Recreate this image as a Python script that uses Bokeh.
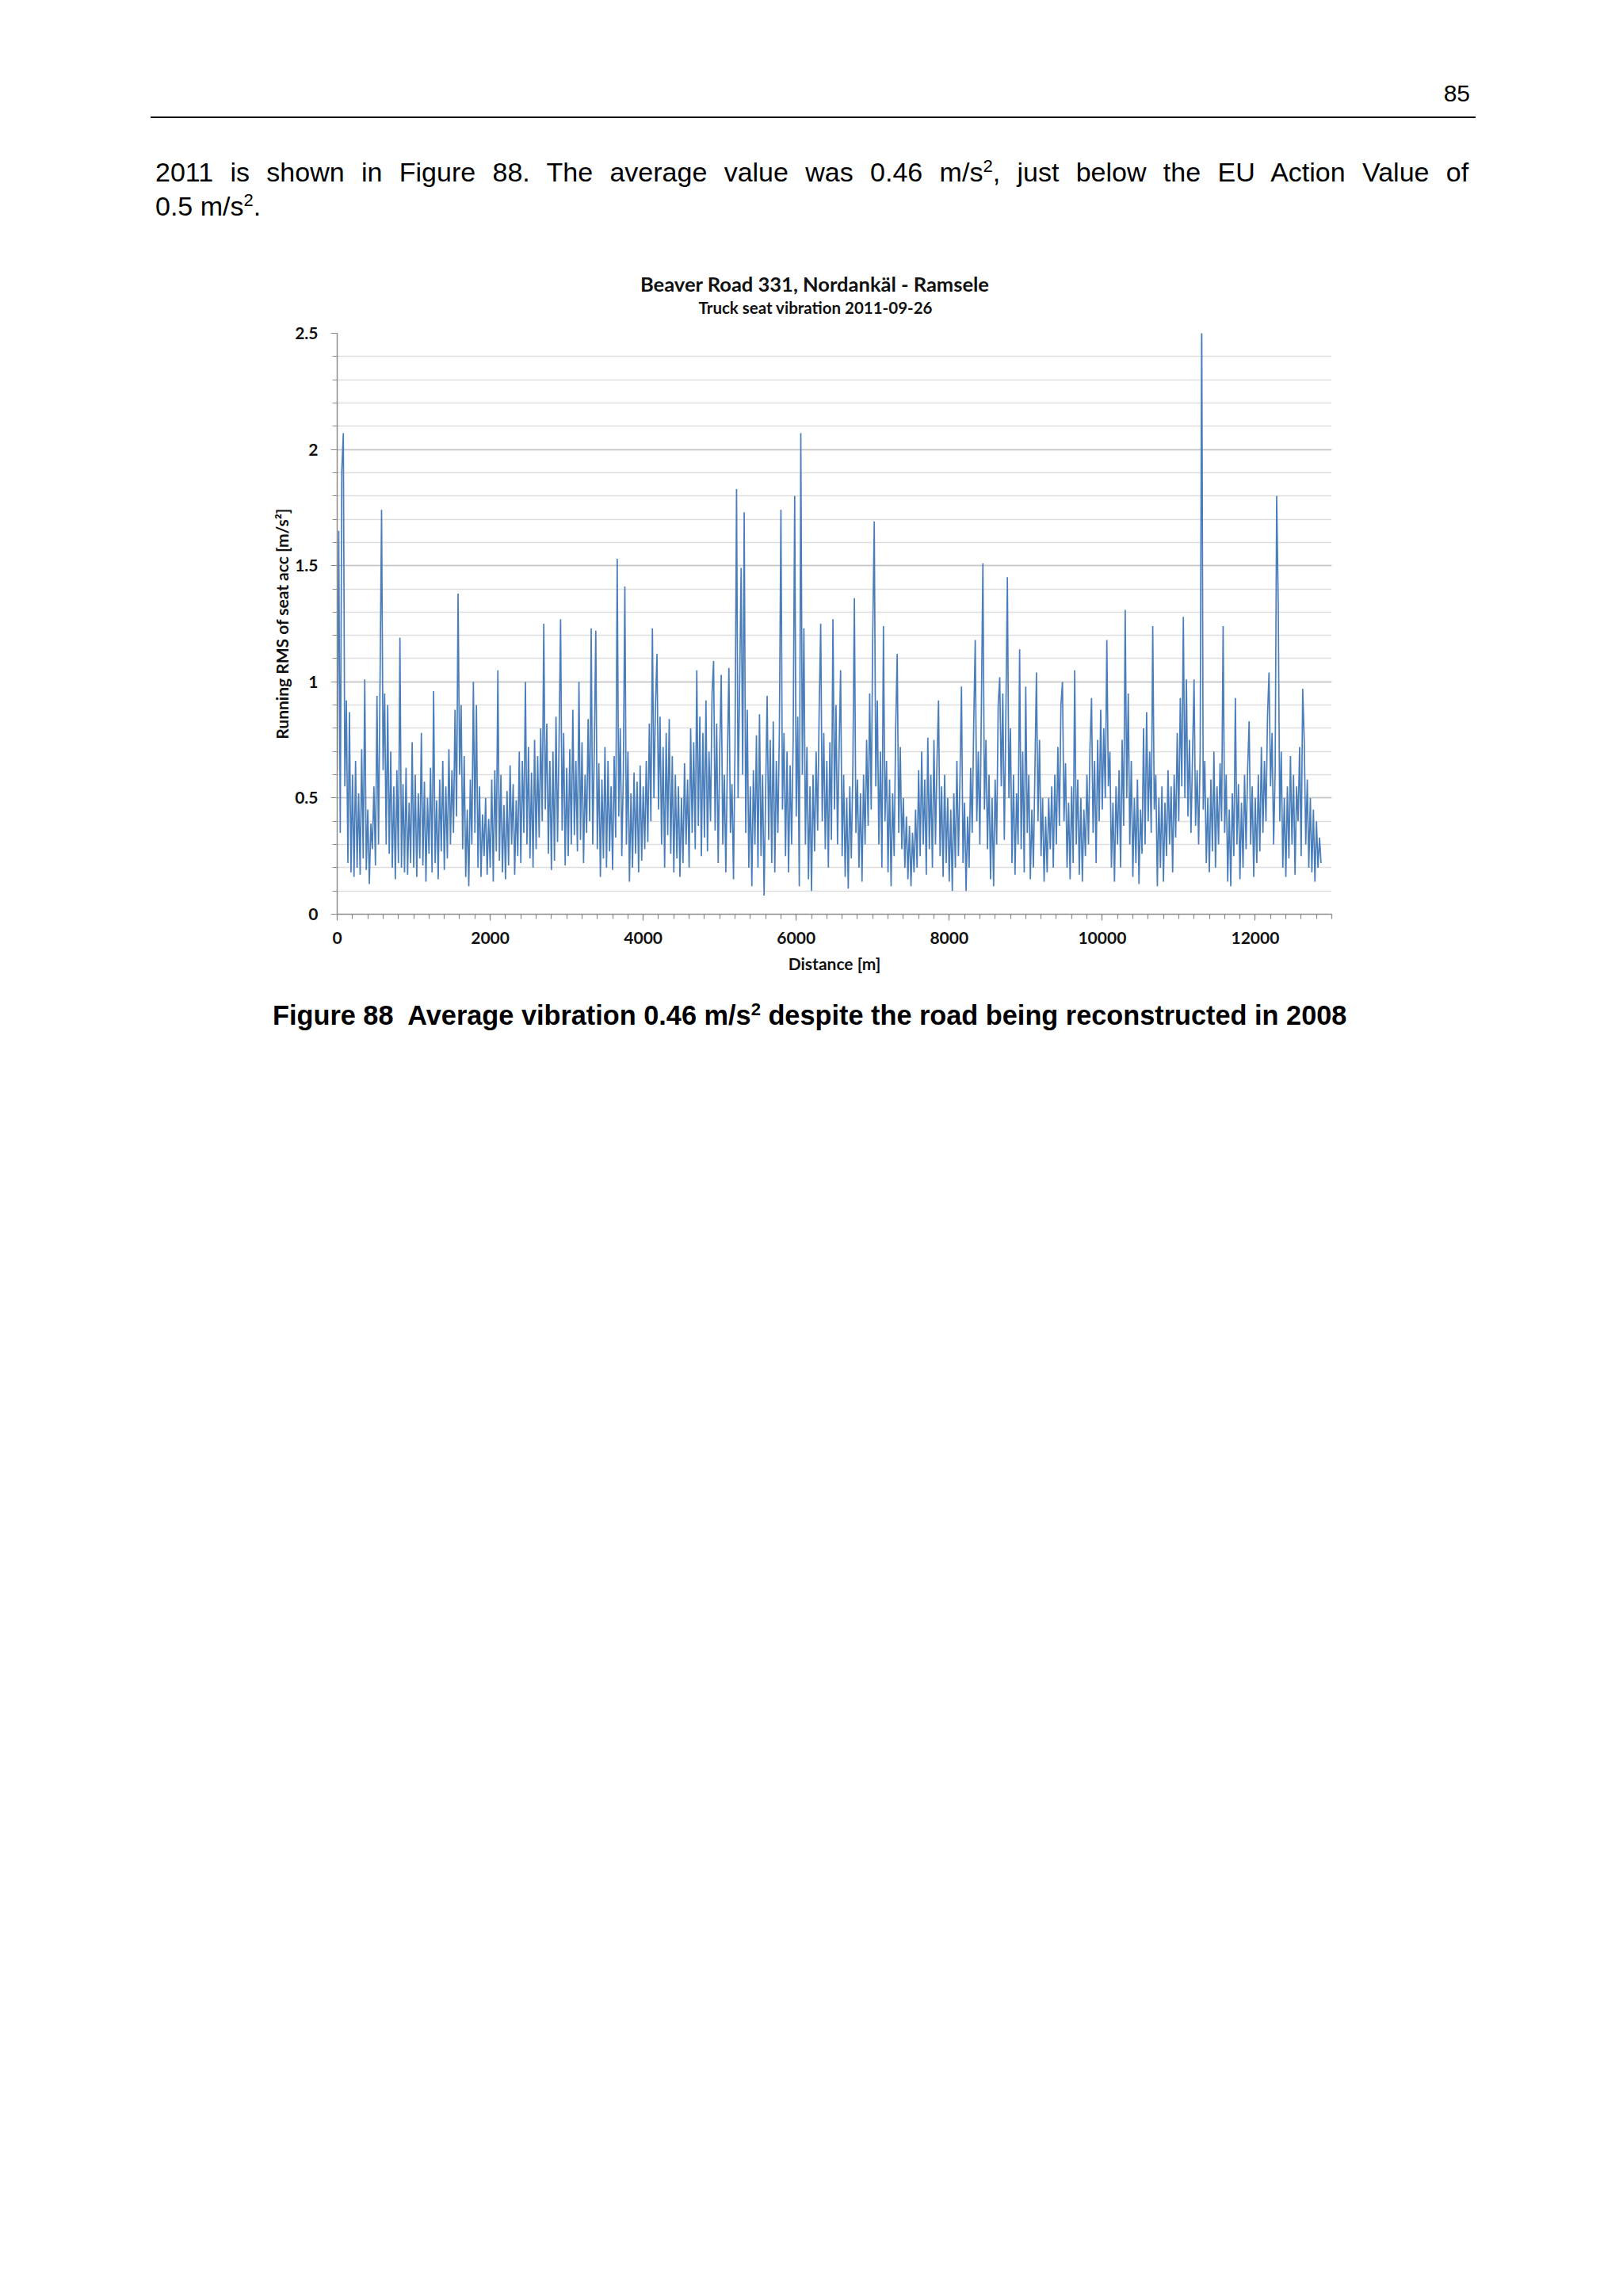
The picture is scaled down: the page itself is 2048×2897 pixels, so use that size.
from bokeh.plotting import figure
from bokeh.models import Range1d, FixedTicker, Div
from bokeh.layouts import column
from bokeh.embed import file_html
from bokeh.resources import INLINE

# ---------------- data (running RMS, one value every 20 m) ----------------
distance_step_m = 20
rms_km00 = [0.62, 1.65, 0.35, 1.91, 2.07, 0.55, 0.92, 0.22, 0.87, 0.18,
            0.60, 0.16, 0.66, 0.20, 0.52, 0.17, 0.71, 0.24, 1.01, 0.19,
            0.45, 0.13, 0.39, 0.28, 0.55, 0.21, 0.94, 0.30, 1.00, 1.74,
            0.62, 0.95, 0.30, 0.90, 0.26, 0.70, 0.20, 0.55, 0.15, 0.62,
            0.22, 1.19, 0.20, 0.56, 0.18, 0.63, 0.17, 0.48, 0.22, 0.74]
rms_km01 = [0.20, 0.60, 0.16, 0.52, 0.24, 0.78, 0.21, 0.57, 0.14, 0.50,
            0.26, 0.63, 0.18, 0.96, 0.22, 0.49, 0.15, 0.58, 0.27, 0.66,
            0.19, 0.55, 0.24, 0.71, 0.30, 0.62, 0.35, 0.88, 0.42, 1.38,
            0.60, 0.90, 0.28, 0.68, 0.16, 0.45, 0.12, 0.58, 0.30, 1.00,
            0.35, 0.90, 0.20, 0.55, 0.16, 0.43, 0.25, 0.50, 0.17, 0.41]
rms_km02 = [0.20, 0.58, 0.14, 0.62, 0.27, 1.05, 0.23, 0.60, 0.18, 0.47,
            0.15, 0.53, 0.21, 0.64, 0.30, 0.56, 0.17, 0.49, 0.25, 0.70,
            0.22, 0.66, 0.35, 1.00, 0.30, 0.72, 0.24, 0.61, 0.20, 0.75,
            0.28, 0.68, 0.33, 0.80, 0.40, 1.25, 0.45, 0.82, 0.26, 0.66,
            0.19, 0.70, 0.23, 0.85, 0.31, 0.74, 1.27, 0.36, 0.78, 0.21]
rms_km03 = [0.63, 0.25, 0.71, 0.30, 0.88, 0.34, 0.66, 0.27, 1.00, 0.32,
            0.74, 0.22, 0.60, 0.35, 0.84, 0.40, 1.23, 0.30, 0.70, 1.22,
            0.28, 0.65, 0.16, 0.58, 0.24, 0.72, 0.20, 0.66, 0.27, 0.55,
            0.19, 0.68, 0.33, 1.53, 0.42, 0.80, 0.25, 0.60, 1.41, 0.30,
            0.70, 0.14, 0.52, 0.20, 0.61, 0.26, 0.57, 0.18, 0.64, 0.23]
rms_km04 = [0.55, 0.28, 0.66, 0.31, 0.82, 0.40, 1.23, 0.50, 0.90, 1.12,
            0.45, 0.85, 0.30, 0.72, 0.20, 0.78, 0.34, 0.84, 0.26, 0.68,
            0.18, 0.60, 0.24, 0.55, 0.16, 0.50, 0.22, 0.65, 0.30, 0.58,
            0.20, 0.80, 0.35, 0.74, 0.28, 1.05, 0.38, 0.85, 0.25, 0.78,
            0.33, 0.92, 0.27, 0.70, 0.40, 0.95, 1.09, 0.36, 0.82, 0.22]
rms_km05 = [0.70, 1.03, 0.30, 0.60, 0.18, 0.66, 1.06, 0.35, 0.56, 0.15,
            0.72, 1.83, 0.50, 0.98, 1.49, 0.60, 1.73, 0.35, 0.88, 0.20,
            0.55, 0.12, 0.62, 0.30, 0.77, 0.20, 0.86, 0.25, 0.60, 0.08,
            0.52, 0.94, 0.32, 0.75, 0.22, 0.83, 0.18, 0.66, 0.35, 0.80,
            1.74, 0.45, 0.78, 0.25, 0.70, 0.18, 0.64, 0.30, 0.75, 1.80]
rms_km06 = [0.42, 0.85, 0.12, 2.07, 0.60, 1.23, 0.30, 0.72, 0.15, 0.55,
            0.10, 0.60, 0.27, 0.70, 0.36, 0.88, 1.25, 0.40, 0.78, 0.28,
            0.66, 0.20, 0.74, 0.32, 1.27, 0.45, 0.90, 0.30, 0.70, 1.05,
            0.25, 0.60, 0.16, 0.50, 0.11, 0.55, 0.24, 0.62, 1.36, 0.35,
            0.58, 0.20, 0.52, 0.14, 0.60, 0.30, 0.75, 0.38, 0.95, 0.45]
rms_km07 = [1.20, 1.69, 0.55, 0.92, 0.30, 0.70, 0.20, 1.24, 0.40, 0.66,
            0.18, 0.58, 0.12, 0.52, 0.25, 0.80, 1.12, 0.35, 0.72, 0.28,
            0.50, 0.20, 0.42, 0.15, 0.38, 0.12, 0.35, 0.18, 0.45, 0.20,
            0.62, 0.25, 0.70, 0.30, 0.58, 0.17, 0.76, 0.28, 0.60, 0.20,
            0.75, 0.30, 0.66, 0.92, 0.25, 0.55, 0.16, 0.60, 0.22, 0.50]
rms_km08 = [0.14, 0.45, 0.10, 0.52, 0.20, 0.66, 0.25, 0.58, 0.98, 0.22,
            0.48, 0.10, 0.42, 0.20, 0.63, 0.35, 0.82, 1.18, 0.40, 0.70,
            0.30, 0.88, 1.51, 0.45, 0.75, 0.28, 0.60, 0.15, 0.50, 0.12,
            0.58, 0.30, 0.90, 1.02, 0.55, 0.95, 0.32, 0.85, 1.45, 0.50,
            0.80, 0.22, 0.60, 0.17, 0.52, 0.30, 1.14, 0.28, 0.70, 0.18]
rms_km09 = [0.98, 0.35, 0.60, 0.15, 0.45, 0.20, 0.62, 1.04, 0.40, 0.75,
            0.25, 0.50, 0.14, 0.42, 0.18, 0.50, 0.28, 0.55, 0.20, 0.60,
            0.30, 0.72, 0.38, 0.90, 1.00, 0.40, 0.65, 0.20, 0.48, 0.15,
            0.55, 0.22, 1.05, 0.30, 0.58, 0.17, 0.50, 0.14, 0.45, 0.25,
            0.60, 0.30, 0.72, 0.93, 0.35, 0.66, 0.22, 0.75, 0.40, 0.88]
rms_km10 = [0.45, 0.80, 0.50, 1.18, 0.55, 0.70, 0.20, 0.48, 0.14, 0.55,
            0.30, 0.62, 0.20, 0.75, 0.38, 1.31, 0.50, 0.95, 0.30, 0.66,
            0.16, 0.50, 0.22, 0.58, 0.13, 0.45, 0.26, 0.80, 0.30, 0.87,
            0.40, 0.70, 0.35, 1.24, 0.45, 0.60, 0.12, 0.50, 0.20, 0.55,
            0.14, 0.48, 0.25, 0.62, 0.30, 0.55, 0.18, 0.60, 0.33, 0.78]
rms_km11 = [0.40, 0.93, 0.55, 1.28, 0.50, 1.01, 0.42, 0.75, 0.35, 0.68,
            1.01, 0.38, 0.62, 0.30, 0.70, 2.60, 0.45, 0.66, 0.22, 0.50,
            0.18, 0.58, 0.27, 0.70, 0.20, 0.55, 0.30, 0.65, 0.40, 1.24,
            0.35, 0.60, 0.14, 0.45, 0.12, 0.52, 0.25, 0.93, 0.30, 0.56,
            0.15, 0.48, 0.20, 0.60, 0.28, 0.62, 0.83, 0.30, 0.55, 0.16]
rms_km12 = [0.50, 0.22, 0.60, 0.27, 0.72, 0.35, 0.66, 0.40, 0.85, 1.04,
            0.55, 0.78, 0.30, 0.62, 1.80, 1.34, 0.40, 0.70, 0.20, 0.50,
            0.16, 0.55, 0.24, 0.68, 0.30, 0.60, 0.17, 0.55, 0.40, 0.72,
            0.25, 0.97, 0.75, 0.30, 0.58, 0.20, 0.50, 0.18, 0.45, 0.14,
            0.40, 0.20, 0.33, 0.22]

x_major_ticks = [0, 2000, 4000, 6000, 8000, 10000, 12000]
y_major_ticks = [0, 0.5, 1, 1.5, 2, 2.5]
y_tick_labels = {0: "0", 0.5: "0.5", 1: "1", 1.5: "1.5", 2: "2", 2.5: "2.5"}

chart_title = "Beaver Road 331, Nordank&#228;l - Ramsele"
chart_subtitle = "Truck seat vibration 2011-09-26"
x_label = "Distance [m]"
y_label = "Running RMS of seat acc [m/s²]"

rms = (rms_km00 + rms_km01 + rms_km02 + rms_km03 + rms_km04 + rms_km05 + rms_km06
       + rms_km07 + rms_km08 + rms_km09 + rms_km10 + rms_km11 + rms_km12)
distance = [i * distance_step_m for i in range(len(rms))]

BODY = "Liberation Sans"
CHART_FONT = "Lato"
W = 2048

body_style = f"font-family:'{BODY}';font-size:34px;font-weight:normal;fill:#000"
chart_style = f"font-family:'{CHART_FONT}';font-weight:bold;fill:#111"

# ---------------- page header (page number, rule, body text, chart title) ----------------
header_svg = f"""<svg xmlns="http://www.w3.org/2000/svg" width="{W}" height="405" style="display:block">
<text x="1855" y="128" text-anchor="end" style="font-family:'{BODY}';font-size:30px;fill:#000">85</text>
<line x1="190" y1="148" x2="1862" y2="148" stroke="#000" stroke-width="2"/>
<text x="196" y="229" style="{body_style};word-spacing:11.9px">2011 is shown in Figure 88. The average value was 0.46 m/s<tspan dy="-12" style="font-size:22px">2</tspan><tspan dy="12">, just below the EU Action Value of</tspan></text>
<text x="196" y="272" style="{body_style}">0.5 m/s<tspan dy="-12" style="font-size:22px">2</tspan><tspan dy="12">.</tspan></text>
<text x="1028" y="368" text-anchor="middle" style="{chart_style};font-size:25.5px">{chart_title}</text>
<text x="1029" y="396" text-anchor="middle" style="{chart_style};font-size:20.5px">{chart_subtitle}</text>
</svg>"""
header = Div(text=header_svg, width=W, height=405, margin=0)

# ---------------- chart ----------------
chart = figure(width=W, height=835, x_range=Range1d(0, 13000), y_range=Range1d(0, 2.5),
               output_backend="svg", toolbar_location=None,
               min_border_left=425, min_border_right=W - 1680,
               min_border_top=15, min_border_bottom=87,
               outline_line_color=None, background_fill_color="white",
               border_fill_color="white", margin=0)

chart.line(distance, rms, line_color="#4A7EBB", line_width=1.7)

xt = FixedTicker(ticks=x_major_ticks, minor_ticks=list(range(0, 13001, 200)))
yt = FixedTicker(ticks=y_major_ticks, minor_ticks=[round(0.1 * i, 1) for i in range(26)])
chart.xaxis.ticker = xt
chart.yaxis.ticker = yt
chart.xgrid.visible = False
chart.ygrid.ticker = yt
chart.ygrid.grid_line_color = "#c4c4c4"
chart.ygrid.grid_line_width = 1.5
chart.ygrid.minor_grid_line_color = "#dedede"
chart.ygrid.minor_grid_line_width = 1.5
chart.yaxis.major_label_overrides = y_tick_labels

for ax in (chart.xaxis[0], chart.yaxis[0]):
    ax.axis_line_color = "#8c8c8c"
    ax.axis_line_width = 1.5
    ax.major_tick_line_color = "#8c8c8c"
    ax.minor_tick_line_color = "#8c8c8c"
    ax.major_tick_line_width = 1.2
    ax.minor_tick_line_width = 1.2
    ax.major_tick_in = 0
    ax.minor_tick_in = 0
    ax.major_tick_out = 8
    ax.minor_tick_out = 6
    ax.major_label_text_font = CHART_FONT
    ax.major_label_text_font_style = "bold"
    ax.major_label_text_font_size = "21px"
    ax.major_label_text_color = "#111111"
    ax.axis_label_text_font = CHART_FONT
    ax.axis_label_text_font_style = "bold"
    ax.axis_label_text_font_size = "21px"
    ax.axis_label_text_color = "#111111"

chart.xaxis.axis_label = x_label
chart.yaxis.axis_label = y_label
chart.xaxis.major_label_standoff = 14
chart.xaxis.axis_label_standoff = 9
chart.yaxis.major_label_standoff = 16
chart.yaxis.axis_label_standoff = 1

# ---------------- caption ----------------
caption_svg = f"""<svg xmlns="http://www.w3.org/2000/svg" width="{W}" height="90" style="display:block">
<text x="344" y="53" style="font-family:'{BODY}';font-weight:bold;font-size:34.3px;fill:#000">Figure 88&#160; Average vibration 0.46 m/s<tspan dy="-12" style="font-size:22px">2</tspan><tspan dy="12"> despite the road being reconstructed in 2008</tspan></text>
</svg>"""
caption = Div(text=caption_svg, width=W, height=90, margin=0)

page = column(header, chart, caption, spacing=0)
open("out.html", "w", encoding="utf-8").write(file_html(page, INLINE))
